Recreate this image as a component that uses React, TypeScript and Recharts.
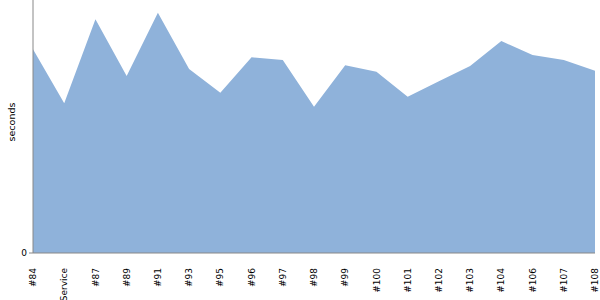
import { Area, AreaChart, XAxis, YAxis } from "recharts";

const builds = [
  "#84", "Service", "#87", "#89", "#91", "#93", "#95", "#96", "#97", "#98",
  "#99", "#100", "#101", "#102", "#103", "#104", "#106", "#107", "#108",
];

const seconds = [
  203.7, 149.7, 233.7, 177, 240.3, 184, 160.3, 195.7, 193, 146.3,
  187.7, 181.3, 156.3, 171.7, 187, 212, 198, 193, 182.3,
];

const yTicks = [0];

const data = builds.map((name, i) => ({ name, seconds: seconds[i] }));

const FONT = "'DejaVu Sans', Verdana, sans-serif";

function BuildTick({ x, y, payload }: any) {
  return (
    <g transform={`translate(${x},${y})`}>
      <text
        transform="rotate(-90)"
        x={-7}
        y={0}
        dy="0.35em"
        textAnchor="end"
        fontSize={9}
        fontFamily={FONT}
        fill="#000"
      >
        {payload.value}
      </text>
    </g>
  );
}

export default function App() {
  return (
    <div style={{ position: "absolute", left: 0, top: 0, width: 600, height: 300, background: "#fff" }}>
      <AreaChart width={600} height={300} data={data} margin={{ top: 0, right: 5, left: 0, bottom: 0 }}>
        <XAxis
          dataKey="name"
          height={47}
          interval={0}
          tickLine={false}
          axisLine={{ stroke: "#888" }}
          tick={<BuildTick />}
        />
        <YAxis
          width={33}
          domain={[0, 253]}
          ticks={yTicks}
          tickSize={4}
          tickLine={{ stroke: "#888" }}
          axisLine={{ stroke: "#888" }}
          tick={{ fontSize: 9, fontFamily: FONT, fill: "#000" }}
          label={{
            value: "seconds",
            angle: -90,
            position: "center",
            dx: -4.5,
            dy: -4.5,
            style: { fontSize: 9.5, fontFamily: FONT, fill: "#000" },
          }}
        />
        <Area
          type="linear"
          dataKey="seconds"
          stroke="none"
          fill="#8fb2da"
          fillOpacity={1}
          isAnimationActive={false}
        />
      </AreaChart>
    </div>
  );
}
